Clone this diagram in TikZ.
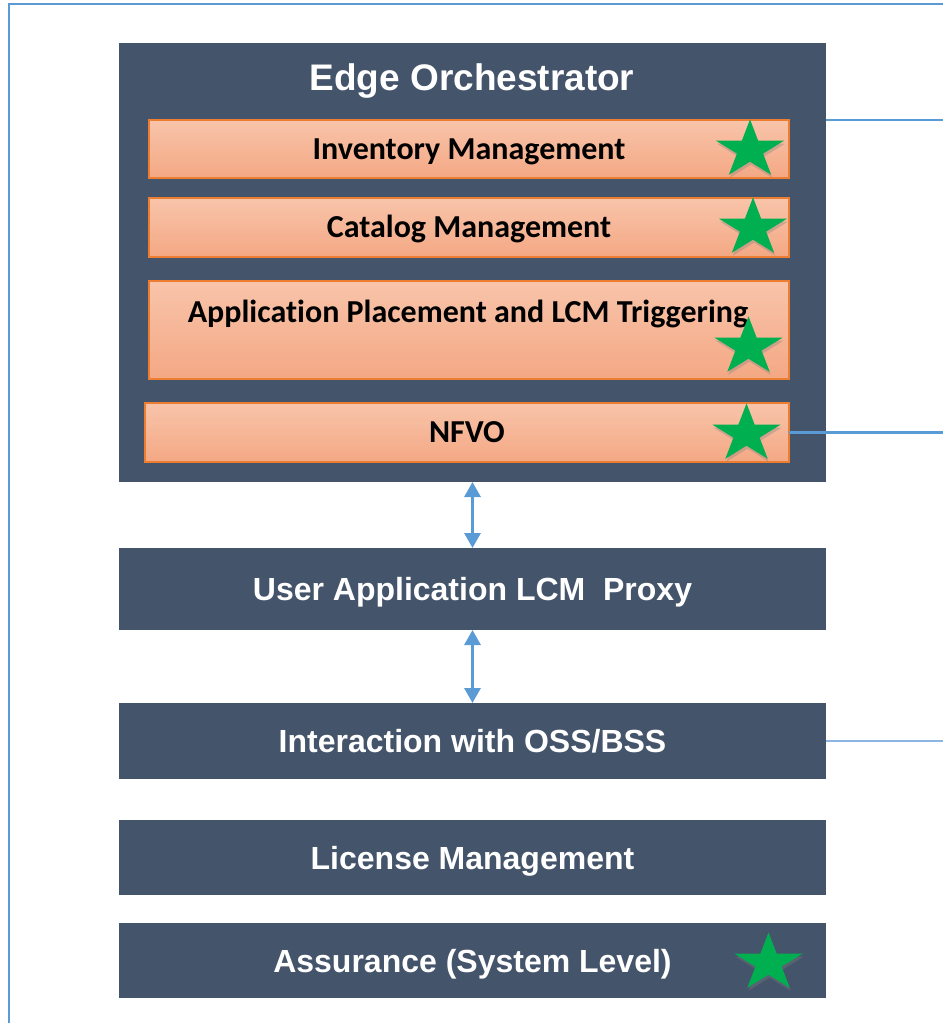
\documentclass[tikz,border=0pt]{standalone}
\usepackage{fontspec}
\setmainfont{Liberation Sans}
\newfontfamily\carlito[Ligatures=NoCommon]{Carlito}
\usetikzlibrary{arrows.meta,shapes.geometric,shadows}
\definecolor{darkslate}{HTML}{44546A}
\definecolor{linkblue}{HTML}{5B9BD5}
\definecolor{lightlink}{HTML}{8DB6E2}
\definecolor{orangeedge}{HTML}{ED7D31}
\definecolor{ortop}{RGB}{248,196,170}
\definecolor{orbot}{RGB}{244,168,132}
\definecolor{stargreen}{HTML}{00B050}
\tikzset{
  darkbox/.style={fill=darkslate, inner sep=0pt, outer sep=0pt, text=white,
    font=\bfseries\fontsize{32}{38}\selectfont, text height=23pt, text depth=0pt},
  orangebox/.style={draw=orangeedge, line width=1.2pt, top color=ortop, bottom color=orbot,
    inner sep=0pt, outer sep=0pt, font=\carlito\bfseries\fontsize{32}{38}\selectfont,
    text height=20.6pt, text depth=0pt},
  greenstar/.style={star, star points=5, star point ratio=2.618, minimum size=72pt,
    inner sep=0pt, fill=stargreen, yscale=0.85,
    drop shadow={opacity=0.35, shadow xshift=1pt, shadow yshift=-3pt}},
  linkline/.style={draw=linkblue, line width=2.5pt},
  biarrow/.style={draw=linkblue, line width=3pt, {Triangle[width=16pt,length=15pt]}-{Triangle[width=16pt,length=15pt]}},
  framestyle/.style={draw=linkblue, line width=2.5pt}
}
\begin{document}
\begin{tikzpicture}[x=1pt,y=-1pt]
\useasboundingbox (0,0) rectangle (943,1023);
% frame
\coordinate (ftop) at (943,4);
\coordinate (fcorner) at (9,4);
\coordinate (fbot) at (9,1023);
\draw[framestyle] (ftop) -- (fcorner) -- (fbot);
% Edge orchestrator
\node[darkbox, minimum width=707pt, minimum height=439pt] (eo) at (472.5,262.5) {};
\node[text=white, font=\bfseries\fontsize{37}{44}\selectfont, inner sep=0pt, text height=26.5pt, text depth=0pt] (eotitle) at (472,77) {Edge Orchestrator};
\node[orangebox, minimum width=640pt, minimum height=58pt] (inv) at (469,149) {Inventory Management};
\node[orangebox, minimum width=640pt, minimum height=59pt] (cat) at (469,227.5) {Catalog Management};
\node[orangebox, minimum width=640pt, minimum height=98pt] (app) at (469,330) {};
\node[font=\carlito\bfseries\fontsize{32}{38}\selectfont, inner sep=0pt, text height=20.6pt, text depth=0pt] (apptext) at (468,312) {Application Placement and LCM Triggering};
\node[orangebox, minimum width=644pt, minimum height=59pt] (nfvo) at (467,432.5) {NFVO};
% stars
\node[greenstar] (s1) at (750,150) {};
\node[greenstar] (s2) at (753,228) {};
\node[greenstar] (s3) at (748.5,347) {};
\node[greenstar] (s4) at (746.5,434) {};
% lower boxes
\node[darkbox, minimum width=707pt, minimum height=82pt] (proxy) at (472.5,589) {User Application LCM\ \ Proxy};
\node[darkbox, minimum width=707pt, minimum height=76pt] (oss) at (472.5,741) {Interaction with OSS/BSS};
\node[darkbox, minimum width=707pt, minimum height=75pt] (lic) at (472.5,857.5) {License Management};
\node[darkbox, minimum width=707pt, minimum height=75pt] (assur) at (472.5,960.5) {Assurance (System Level)};
\node[greenstar] (s5) at (768.5,963) {};
% arrows
\draw[biarrow] (eo.south) -- (proxy.north);
\draw[biarrow] (proxy.south) -- (oss.north);
% lines to the right
\coordinate (r1) at (943,120);
\coordinate (r2) at (943,432.5);
\coordinate (r3) at (943,741);
\draw[linkline] (eo.east |- r1) -- (r1);
\draw[linkline] (nfvo.east) -- (r2);
\draw[draw=lightlink, line width=2.5pt] (oss.east) -- (r3);
\end{tikzpicture}
\end{document}
